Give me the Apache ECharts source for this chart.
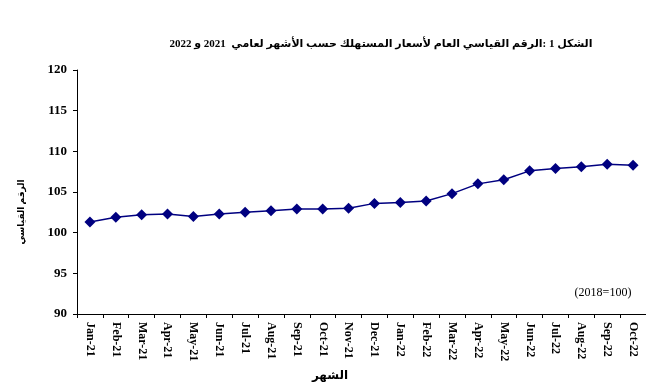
<!DOCTYPE html>
<html>
<head>
<meta charset="utf-8">
<script src="https://cdn.jsdelivr.net/npm/echarts@6/dist/echarts.min.js"></script>
<style>html,body{margin:0;padding:0;background:#fff}#c{width:646px;height:391px}</style>
</head>
<body>
<div id="c"></div>
<script>
const categories = ["Jan-21","Feb-21","Mar-21","Apr-21","May-21","Jun-21","Jul-21","Aug-21","Sep-21","Oct-21","Nov-21","Dec-21","Jan-22","Feb-22","Mar-22","Apr-22","May-22","Jun-22","Jul-22","Aug-22","Sep-22","Oct-22"];
const cpiValues = [101.3,101.9,102.2,102.3,102.0,102.3,102.5,102.7,102.9,102.9,103.0,103.6,103.7,103.9,104.8,106.0,106.5,107.6,107.9,108.1,108.4,108.3];
const titleText = "الشكل 1 :الرقم القياسي العام لأسعار المستهلك حسب الأشهر لعامي  2021 و 2022";
const yAxisName = "الرقم القياسي";
const xAxisName = "الشهر";
const baseNote = "(2018=100)";

const serif = "'Liberation Serif','DejaVu Serif','DejaVu Sans',serif";
const chart = echarts.init(document.getElementById('c'), null, {renderer:'canvas'});
chart.setOption({
  animation:false,
  backgroundColor:'#fff',
  grid:{left:77, top:70, right:0, bottom:77},
  xAxis:{
    type:'category', data:categories, boundaryGap:true,
    axisLine:{lineStyle:{color:'#000', width:1}},
    axisTick:{show:true, alignWithLabel:false, length:4, lineStyle:{color:'#000'}},
    axisLabel:{rotate:-90, interval:0, margin:8, fontFamily:serif, fontSize:12, fontWeight:'bold', color:'#000'},
    splitLine:{show:false}
  },
  yAxis:{
    type:'value', min:90, max:120, interval:5,
    axisLine:{show:true, lineStyle:{color:'#000', width:1}},
    axisTick:{show:true, length:4, lineStyle:{color:'#000'}},
    axisLabel:{margin:10, fontFamily:serif, fontSize:13, fontWeight:'bold', color:'#000'},
    splitLine:{show:false}
  },
  graphic:[{
    type:'text', x:381, y:44,
    style:{text:titleText, font:"bold 11px 'Liberation Serif','DejaVu Sans', serif", fill:'#000', align:'center', verticalAlign:'middle'}
  },{
    type:'text', x:22, y:212, rotation:Math.PI/2,
    style:{text:yAxisName, font:"bold 9px 'Liberation Serif','DejaVu Sans', serif", fill:'#000', align:'center', verticalAlign:'middle'}
  },{
    type:'text', x:330, y:376,
    style:{text:xAxisName, font:"bold 12px 'Liberation Serif','DejaVu Sans', serif", fill:'#000', align:'center', verticalAlign:'middle'}
  },{
    type:'text', x:603, y:293,
    style:{text:baseNote, font:"12px 'Liberation Serif', serif", fill:'#000', align:'center', verticalAlign:'middle'}
  }],
  series:[{
    type:'line', data:cpiValues,
    symbol:'diamond', symbolSize:11,
    lineStyle:{color:'#000080', width:1.5},
    itemStyle:{color:'#000080'}
  }]
});
</script>
</body>
</html>
